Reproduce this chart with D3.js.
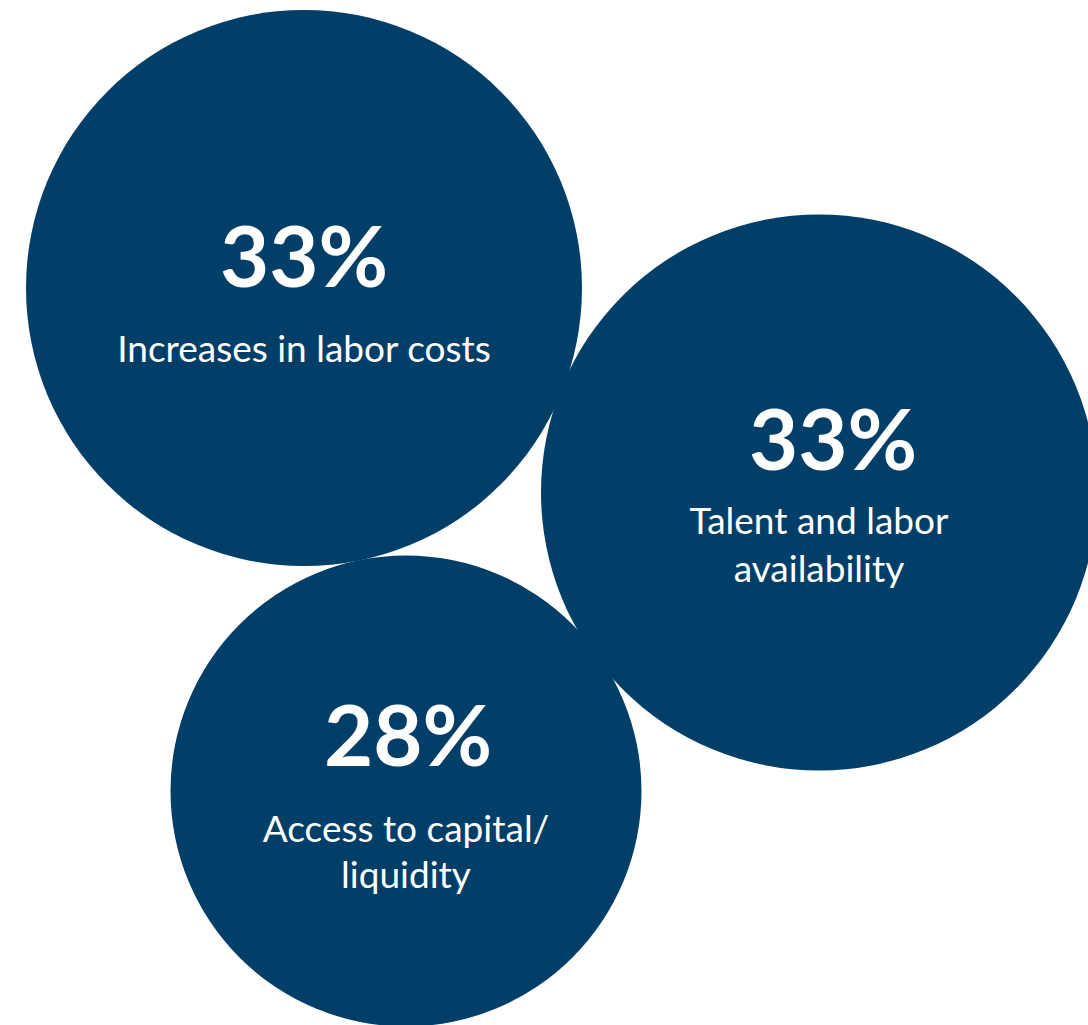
<!DOCTYPE html>
<html><head><meta charset="utf-8">
<script src="https://cdn.jsdelivr.net/npm/d3@7"></script>
<style>html,body{margin:0;padding:0;background:#fff;overflow:hidden}</style>
</head><body>
<svg id="c" width="1088" height="1025"></svg>
<script>
const categories = ["Increases in labor costs", "Talent and labor availability", "Access to capital/ liquidity"];
const labelLines = [["Increases in labor costs"], ["Talent and labor", "availability"], ["Access to capital/", "liquidity"]];
const values = [33, 33, 28];
const radiusValues = [33, 33, 28];

const svg = d3.select("#c");
const cx = [304, 819, 406];
const cy = [288, 492.5, 791];
const numDx = [0, 14, 2];
const r = d3.scaleSqrt().domain([0, 33]).range([0, 278]);
const rr = v => v === 28 ? 235.5 : r(v);

const g = svg.selectAll("g.b").data(values).join("g").attr("class","b")
  .attr("transform", (d,i) => `translate(${cx[i]},${cy[i]})`);
g.append("circle").attr("r", (d,i) => rr(radiusValues[i])).attr("fill", "#013f68");

const numY = [-1, -22.5, -25];
const lineY = [[74], [41, 89], [51, 97]];
g.append("text").attr("text-anchor","middle").attr("y",(d,i)=>numY[i]).attr("x",(d,i)=>numDx[i])
  .attr("fill","#fff").style("font-family","Lato").style("font-weight","700")
  .style("font-size","85px").text(d => d + "%");
g.each(function(d,i){
  const t = d3.select(this);
  labelLines[i].forEach((ln,j) => {
    t.append("text").attr("text-anchor","middle").attr("y", lineY[i][j])
      .attr("fill","#fff").style("font-family","Lato").style("font-size","37px").text(ln);
  });
});
</script>
</body></html>
